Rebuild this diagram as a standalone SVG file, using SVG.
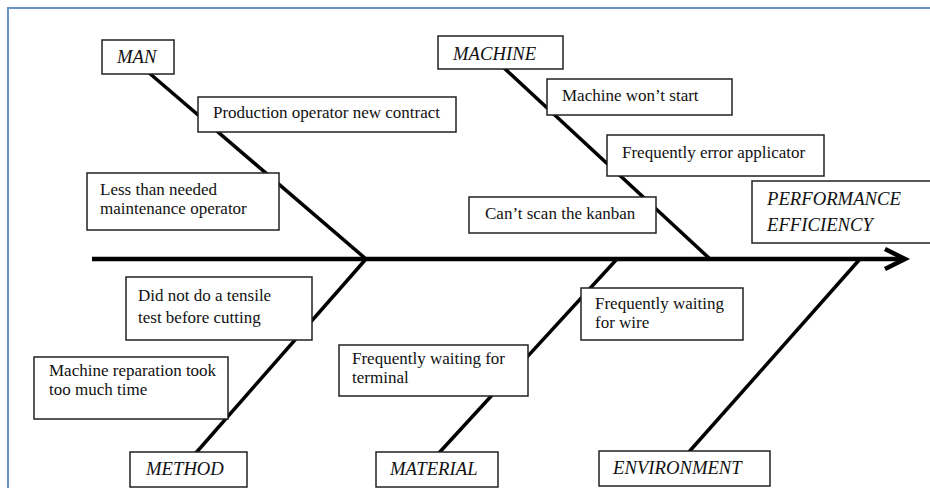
<svg xmlns="http://www.w3.org/2000/svg" width="930" height="488" viewBox="0 0 930 488">
<style>
.frame{fill:none;stroke:#6a93c9;stroke-width:2}
.bone{stroke:#000;stroke-width:3.5;fill:none;stroke-linecap:butt}
.spine{stroke:#000;stroke-width:4.5;fill:none}
.box{fill:#fff;stroke:#222;stroke-width:1.5}
.t{font-family:"Liberation Serif","Times New Roman",serif;font-size:17px;fill:#111}
.h{font-family:"Liberation Serif","Times New Roman",serif;font-size:18.7px;font-style:italic;fill:#111}
</style>
<rect width="930" height="488" fill="#fff"/>
<rect class="frame" x="8" y="8" width="960" height="520"/>
<g id="connectors">
<line class="spine" x1="92" y1="259" x2="903" y2="259"/>
<polyline class="spine" points="885,249 905,259 885,269"/>
<line class="bone" x1="148" y1="72" x2="366" y2="259"/>
<line class="bone" x1="503" y1="67" x2="710" y2="259"/>
<line class="bone" x1="195" y1="454" x2="366" y2="259"/>
<line class="bone" x1="438" y1="454" x2="617" y2="259"/>
<line class="bone" x1="688" y1="453" x2="860" y2="259"/>
</g>
<g id="man"><rect class="box" x="102" y="40" width="72" height="34"/><text class="h" x="117" y="63">MAN</text></g>
<g id="machine"><rect class="box" x="438" y="36" width="125" height="33"/><text class="h" x="453" y="60">MACHINE</text></g>
<g id="method"><rect class="box" x="130" y="452" width="117" height="35"/><text class="h" x="146" y="475">METHOD</text></g>
<g id="material"><rect class="box" x="376" y="452" width="122" height="35"/><text class="h" x="390" y="475">MATERIAL</text></g>
<g id="environment"><rect class="box" x="599" y="451" width="171" height="35"/><text class="h" x="613" y="474">ENVIRONMENT</text></g>
<g id="effect"><rect class="box" x="752" y="181" width="190" height="62"/><text class="h" x="767" y="205" font-size="19.3">PERFORMANCE</text><text class="h" x="767" y="231" font-size="19.3">EFFICIENCY</text></g>
<g id="c1"><rect class="box" x="198" y="97" width="258" height="35"/><text class="t" x="213" y="118">Production operator new contract</text></g>
<g id="c2"><rect class="box" x="87" y="173" width="192" height="57"/><text class="t" x="100" y="195">Less than needed</text><text class="t" x="100" y="214">maintenance operator</text></g>
<g id="c3"><rect class="box" x="547" y="79" width="185" height="36"/><text class="t" x="562" y="101">Machine won’t start</text></g>
<g id="c4"><rect class="box" x="607" y="135" width="217" height="41"/><text class="t" x="622" y="158">Frequently error applicator</text></g>
<g id="c5"><rect class="box" x="469" y="197" width="187" height="36"/><text class="t" x="485" y="219">Can’t scan the kanban</text></g>
<g id="c6"><rect class="box" x="126" y="277" width="186" height="63"/><text class="t" x="138" y="301" font-size="19.5">Did not do a tensile</text><text class="t" x="138" y="323" font-size="19.5">test before cutting</text></g>
<g id="c7"><rect class="box" x="34" y="357" width="194" height="62"/><text class="t" x="49" y="376">Machine reparation took</text><text class="t" x="49" y="395">too much time</text></g>
<g id="c8"><rect class="box" x="339" y="345" width="189" height="51"/><text class="t" x="352" y="364">Frequently waiting  for</text><text class="t" x="352" y="383">terminal</text></g>
<g id="c9"><rect class="box" x="581" y="288" width="162" height="52"/><text class="t" x="595" y="309">Frequently waiting</text><text class="t" x="595" y="328">for wire</text></g>
</svg>
